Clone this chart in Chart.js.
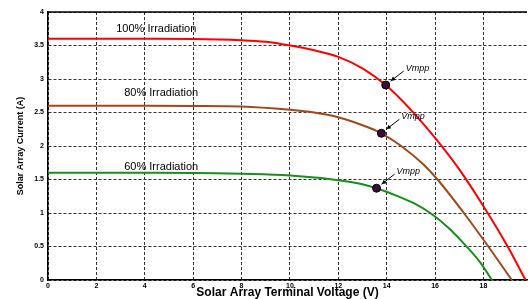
<!DOCTYPE html>
<html>
<head>
<meta charset="utf-8">
<script src="https://cdn.jsdelivr.net/npm/chart.js@4/dist/chart.umd.min.js"></script>
<style>
    html, body { margin: 0; padding: 0; background: #ffffff; }
    #wrap { width: 532px; height: 299px; }
</style>
</head>
<body>
<div id="wrap"><canvas id="iv-chart" width="532" height="299"></canvas></div>
<script>
// Curves (voltage in V, current in A)
const fullV = [0, 2, 4, 6, 8, 9, 10, 11, 12, 13, 13.96, 15, 16, 17, 18, 19, 19.74];
const fullI = [3.6, 3.6, 3.6, 3.598, 3.58, 3.555, 3.5, 3.43, 3.33, 3.16, 2.91, 2.54, 2.12, 1.65, 1.1, 0.5, 0];

const eightyV = [0, 2, 4, 6, 8, 10, 11, 12, 13, 13.78, 14.6, 15.5, 16.1, 17.19, 18.2, 19.17];
const eightyI = [2.6, 2.6, 2.6, 2.598, 2.59, 2.54, 2.5, 2.43, 2.31, 2.19, 2.0, 1.73, 1.5, 1.0, 0.5, 0];

const sixtyV = [0, 2, 4, 6, 8, 10, 12, 13, 13.58, 14.4, 15.1, 15.8, 16.55, 17.25, 17.85, 18.35];
const sixtyI = [1.6, 1.6, 1.6, 1.598, 1.585, 1.56, 1.49, 1.43, 1.37, 1.26, 1.15, 1.0, 0.78, 0.52, 0.27, 0];

// maximum power points
const mppV = [13.96, 13.78, 13.58];
const mppI = [2.91, 2.19, 1.37];
const mppLabel = 'Vmpp';

// curve labels, anchored in data units
const curveLabels = ['100% Irradiation', '80% Irradiation', '60% Irradiation'];
const curveLabelV = [2.82, 3.15, 3.15];
const curveLabelI = [3.75, 2.79, 1.69];

const xTicks = [0, 2, 4, 6, 8, 10, 12, 14, 16, 18];
const yTicks = [0, 0.5, 1, 1.5, 2, 2.5, 3, 3.5, 4];

const X_TITLE = 'Solar Array Terminal Voltage (V)';
const Y_TITLE = 'Solar Array Current (A)';

const RED = '#ff0000';
const BROWN = '#a2491b';
const GREEN = '#17901a';

function toPoints(vs, is) {
    return vs.map((v, i) => ({ x: v, y: is[i] }));
}

function curveDataset(label, vs, is, color) {
    return {
        label,
        data: toPoints(vs, is),
        borderColor: color,
        borderWidth: 2,
        pointRadius: 0,
        fill: false,
        showLine: true,
        cubicInterpolationMode: 'monotone'
    };
}

const annotations = {
    id: 'annotations',
    afterDatasetsDraw(chart) {
        const { ctx, chartArea, scales } = chart;
        const xs = scales.x;
        const ys = scales.y;
        ctx.save();

        // top frame line
        ctx.strokeStyle = '#000000';
        ctx.lineWidth = 1.5;
        ctx.beginPath();
        ctx.moveTo(chartArea.left, chartArea.top);
        ctx.lineTo(chartArea.right, chartArea.top);
        ctx.stroke();

        // irradiation labels
        ctx.fillStyle = '#000000';
        ctx.font = '11px Arial, "Liberation Sans", sans-serif';
        ctx.textBaseline = 'middle';
        ctx.textAlign = 'left';
        curveLabels.forEach((text, i) => {
            ctx.fillText(text, xs.getPixelForValue(curveLabelV[i]), ys.getPixelForValue(curveLabelI[i]));
        });

        // Vmpp labels with arrows
        ctx.font = 'italic 9px Arial, "Liberation Sans", sans-serif';
        mppV.forEach((v, i) => {
            const px = xs.getPixelForValue(v);
            const py = ys.getPixelForValue(mppI[i]);
            ctx.fillText(mppLabel, px + 20, py - 17);

            const x0 = px + 18, y0 = py - 14;
            const x1 = px + 5, y1 = py - 4;
            ctx.strokeStyle = '#000000';
            ctx.lineWidth = 1;
            ctx.beginPath();
            ctx.moveTo(x0, y0);
            ctx.lineTo(x1, y1);
            ctx.stroke();
            const ang = Math.atan2(y1 - y0, x1 - x0);
            ctx.beginPath();
            ctx.moveTo(x1, y1);
            ctx.lineTo(x1 - 5 * Math.cos(ang - 0.45), y1 - 5 * Math.sin(ang - 0.45));
            ctx.lineTo(x1 - 5 * Math.cos(ang + 0.45), y1 - 5 * Math.sin(ang + 0.45));
            ctx.closePath();
            ctx.fill();
        });

        ctx.restore();
    }
};

const tickFont = { family: 'Arial, "Liberation Sans", sans-serif', size: 7, weight: 'bold' };
const gridStyle = {
    color: '#333333',
    lineWidth: 1,
    drawTicks: false
};

new Chart(document.getElementById('iv-chart'), {
    type: 'scatter',
    data: {
        datasets: [
            curveDataset('100%', fullV, fullI, RED),
            curveDataset('80%', eightyV, eightyI, BROWN),
            curveDataset('60%', sixtyV, sixtyI, GREEN),
            {
                label: 'mpp',
                data: toPoints(mppV, mppI),
                order: -1,
                pointRadius: 4,
                pointBackgroundColor: '#3d0a3c',
                pointBorderColor: '#000000',
                pointBorderWidth: 1,
                showLine: false
            }
        ]
    },
    plugins: [annotations],
    options: {
        responsive: false,
        animation: false,
        layout: { padding: { top: 12, right: 0, left: 0, bottom: 0 } },
        plugins: {
            legend: { display: false },
            tooltip: { enabled: false }
        },
        scales: {
            x: {
                type: 'linear',
                min: 0,
                max: 19.8,
                afterBuildTicks: (scale) => { scale.ticks = xTicks.map((v) => ({ value: v })); },
                afterFit: (scale) => { scale.height = 19; },
                ticks: {
                    color: '#000000',
                    font: tickFont,
                    padding: 2,
                    maxRotation: 0,
                    autoSkip: false,
                    callback: (value) => String(value)
                },
                grid: gridStyle,
                border: { display: true, color: '#000000', width: 1.5, dash: [3, 2] },
                title: {
                    display: true,
                    text: X_TITLE,
                    color: '#000000',
                    font: { family: 'Arial, "Liberation Sans", sans-serif', size: 12, weight: 'bold' },
                    padding: { top: 0, bottom: -1 }
                }
            },
            y: {
                type: 'linear',
                min: 0,
                max: 4,
                afterBuildTicks: (scale) => { scale.ticks = yTicks.map((v) => ({ value: v })); },
                afterFit: (scale) => { scale.width = 48; },
                ticks: {
                    color: '#000000',
                    font: tickFont,
                    padding: 4,
                    autoSkip: false,
                    callback: (value) => String(value)
                },
                grid: gridStyle,
                border: { display: true, color: '#000000', width: 1.5, dash: [3, 2] },
                title: {
                    display: true,
                    text: Y_TITLE,
                    color: '#000000',
                    font: { family: 'Arial, "Liberation Sans", sans-serif', size: 9, weight: 'bold' },
                    padding: { top: 15, bottom: 0 }
                }
            }
        }
    }
});
</script>
</body>
</html>
